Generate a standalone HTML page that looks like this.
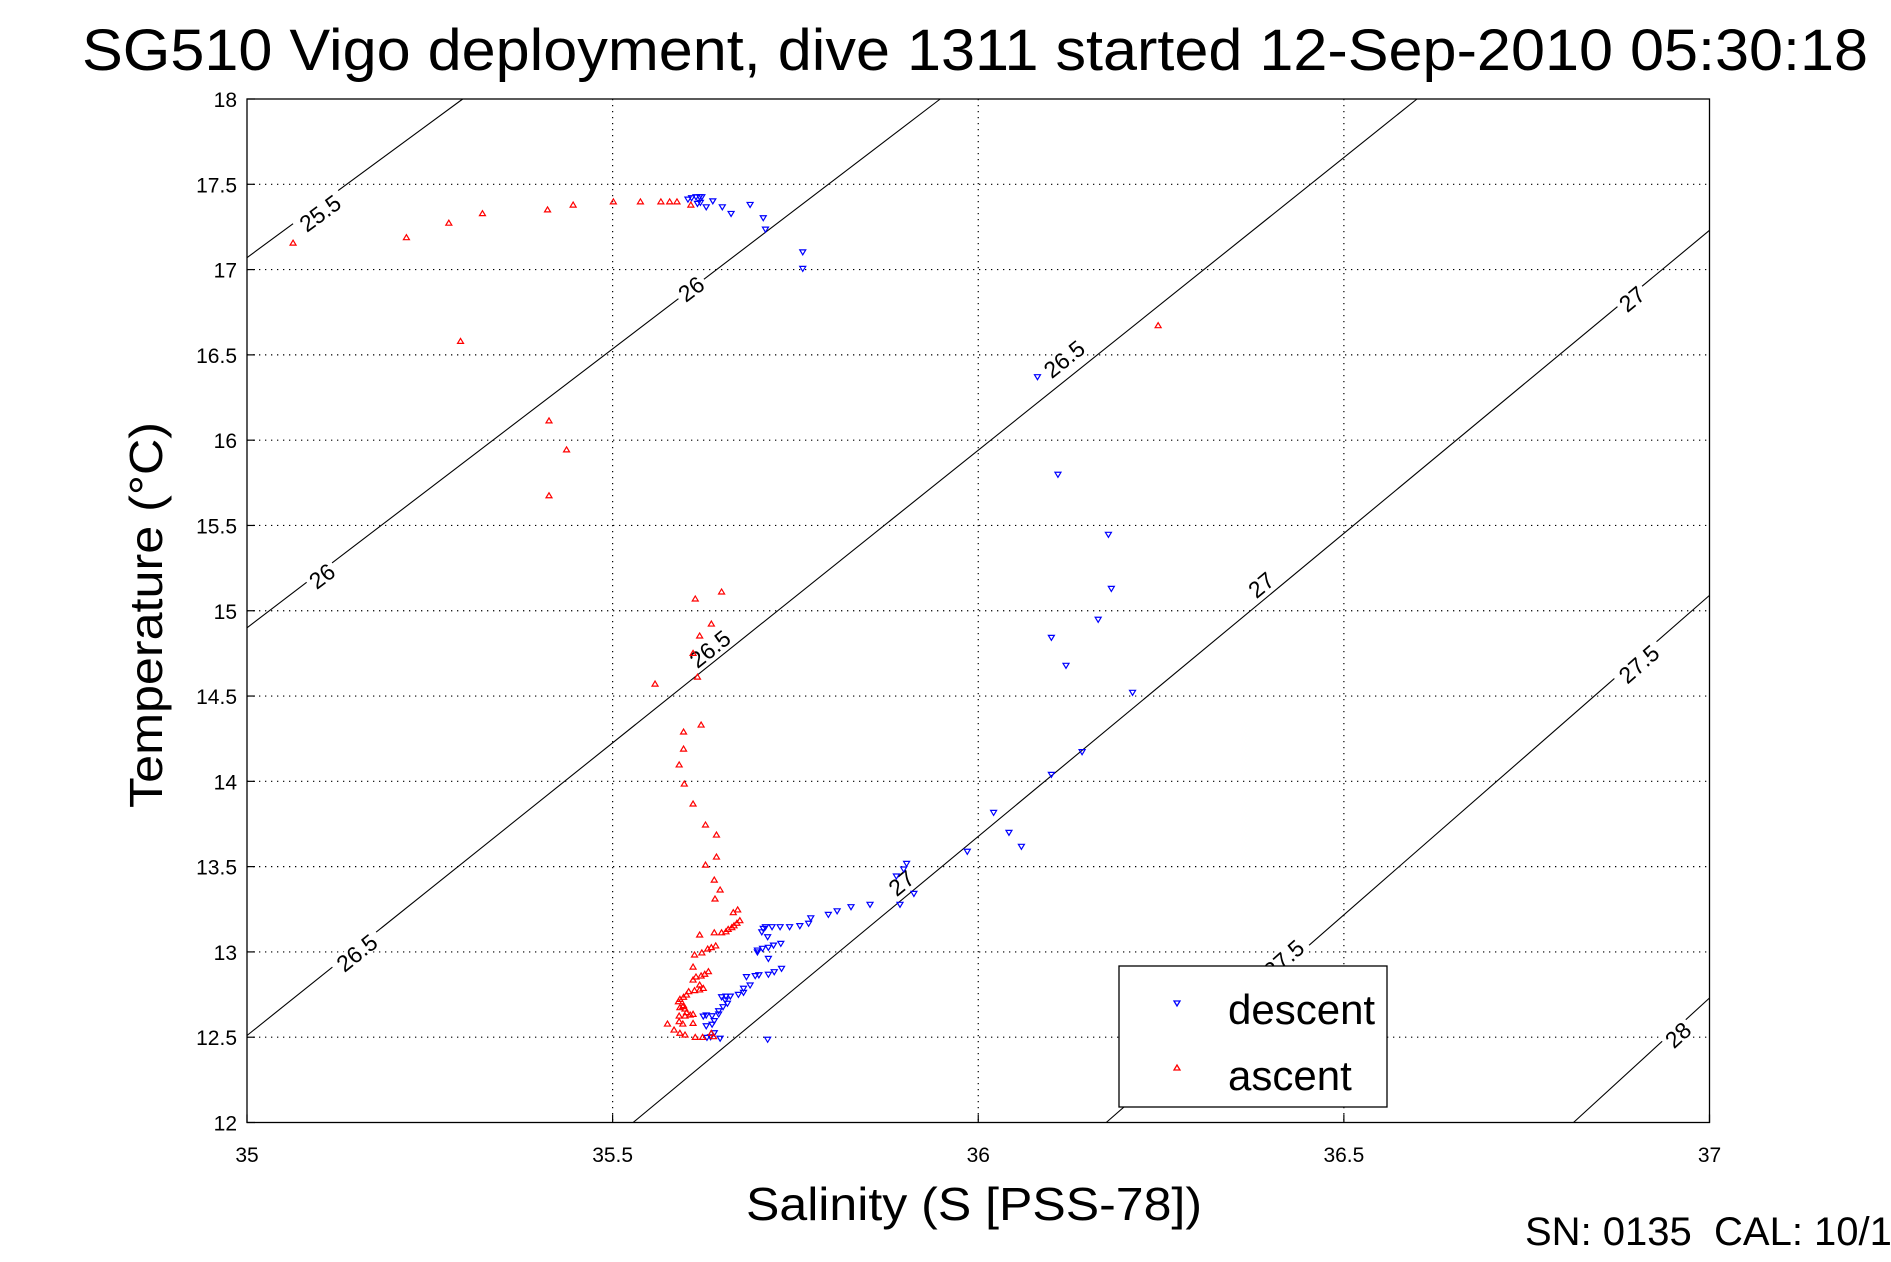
<!DOCTYPE html>
<html><head><meta charset="utf-8"><style>
html,body{margin:0;padding:0;background:#fff;}
svg{display:block;font-family:"Liberation Sans",sans-serif;}
</style></head><body>
<svg id="chart" width="1891" height="1262" viewBox="0 0 1891 1262" xmlns="http://www.w3.org/2000/svg">
<rect width="1891" height="1262" fill="#fff"/>
<text x="82" y="70" font-size="58" textLength="1786" lengthAdjust="spacingAndGlyphs">SG510 Vigo deployment, dive 1311 started 12-Sep-2010 05:30:18</text>
<g id="grid"></g>
<g id="contours"></g>
<g id="marks"></g>
<g id="axes"></g>
<text transform="translate(162,615) rotate(-90)" text-anchor="middle" font-size="46" textLength="386" lengthAdjust="spacingAndGlyphs">Temperature (°C)</text>
<text x="974" y="1220" text-anchor="middle" font-size="46" textLength="456" lengthAdjust="spacingAndGlyphs">Salinity (S [PSS-78])</text>
<text x="1525" y="1245" font-size="40" style="white-space:pre">SN: 0135  CAL: 10/1</text>
<g>
<rect x="1119" y="966" width="268" height="141" fill="#fff" stroke="#000" stroke-width="1.3"/>
<path d="M1174,1001 L1180,1001 L1177,1006 Z" fill="none" stroke="#00f" stroke-width="1.3"/>
<text x="1228" y="1024" font-size="42">descent</text>
<path d="M1174,1070 L1180,1070 L1177,1065 Z" fill="none" stroke="#f00" stroke-width="1.3"/>
<text x="1228" y="1090" font-size="42">ascent</text>
</g>
</svg>
<script>
const xTicks=[35,35.5,36,36.5,37];
const xTickLabels=["35","35.5","36","36.5","37"];
const yTicks=[12,12.5,13,13.5,14,14.5,15,15.5,16,16.5,17,17.5,18];
const yTickLabels=["12","12.5","13","13.5","14","14.5","15","15.5","16","16.5","17","17.5","18"];
const contourLevels=["25.5","26","26.5","27","27.5","28"];
const contourStartS=[35,35,35,35.528,36.175,36.814];
const contourStartT=[17.07,14.90,12.51,12,12,12];
const contourEndS=[35.295,35.948,36.60,37,37,37];
const contourEndT=[18,18,18,17.23,15.09,12.73];
const labelLevel=["25.5","26","26","26.5","26.5","26.5","27","27","27","27.5","27.5","28"];
const labelS=[35.1,35.6075,35.1026,36.1176,35.6332,35.1503,36.894,36.387,35.895,36.9036,36.418,36.957];
const labelT=[17.33,16.886,15.203,16.475,14.776,12.994,16.827,15.151,13.404,14.687,12.958,12.513];
const descS=[35.622,35.619,35.614,35.608,35.603,35.616,35.620,35.628,35.637,35.650,35.662,35.688,35.706,35.709,35.760,35.760,36.081,36.109,36.178,36.182,36.164,36.100,36.120,36.211,36.142,36.100,36.021,36.042,36.059,35.985,35.902,35.898,35.888,35.912,35.893,35.852,35.826,35.807,35.795,35.771,35.768,35.756,35.742,35.729,35.718,35.709,35.706,35.704,35.712,35.730,35.720,35.713,35.705,35.698,35.698,35.713,35.731,35.721,35.713,35.700,35.695,35.683,35.688,35.679,35.679,35.672,35.661,35.655,35.649,35.654,35.657,35.651,35.645,35.645,35.636,35.628,35.624,35.639,35.636,35.628,35.639,35.647,35.634,35.629,35.712];
const descT=[17.427,17.427,17.427,17.421,17.413,17.388,17.394,17.368,17.403,17.368,17.329,17.382,17.304,17.237,17.104,17.007,16.372,15.80,15.448,15.131,14.950,14.844,14.680,14.522,14.174,14.041,13.818,13.701,13.619,13.590,13.519,13.486,13.445,13.343,13.279,13.279,13.265,13.241,13.220,13.200,13.168,13.154,13.148,13.148,13.148,13.148,13.138,13.118,13.089,13.050,13.040,13.027,13.021,13.011,13.0,12.962,12.904,12.884,12.869,12.866,12.861,12.855,12.806,12.787,12.763,12.751,12.741,12.741,12.737,12.718,12.699,12.679,12.655,12.636,12.626,12.630,12.624,12.597,12.576,12.567,12.526,12.494,12.503,12.499,12.488];
const ascS=[35.063,35.218,35.276,35.322,35.411,35.446,35.501,35.538,35.566,35.578,35.588,35.607,35.292,35.413,35.437,35.413,36.246,35.649,35.613,35.635,35.619,35.610,35.616,35.558,35.621,35.597,35.597,35.591,35.598,35.610,35.627,35.642,35.642,35.627,35.639,35.647,35.640,35.665,35.671,35.674,35.670,35.666,35.663,35.658,35.655,35.649,35.639,35.619,35.641,35.635,35.630,35.622,35.612,35.610,35.631,35.626,35.621,35.614,35.610,35.619,35.624,35.619,35.612,35.604,35.601,35.597,35.592,35.590,35.596,35.592,35.599,35.597,35.601,35.606,35.610,35.591,35.599,35.591,35.596,35.575,35.610,35.584,35.592,35.599,35.613,35.623,35.635,35.638];
const ascT=[17.155,17.187,17.272,17.328,17.350,17.378,17.397,17.397,17.397,17.397,17.397,17.378,16.579,16.113,15.943,15.674,16.671,15.110,15.069,14.922,14.852,14.750,14.611,14.570,14.330,14.289,14.189,14.096,13.984,13.867,13.744,13.685,13.556,13.509,13.421,13.363,13.31,13.23,13.246,13.183,13.168,13.153,13.142,13.132,13.118,13.112,13.112,13.099,13.035,13.025,13.017,12.994,12.982,12.911,12.884,12.869,12.859,12.853,12.835,12.806,12.786,12.777,12.773,12.767,12.747,12.734,12.722,12.708,12.679,12.673,12.665,12.685,12.644,12.630,12.634,12.624,12.624,12.591,12.577,12.577,12.581,12.542,12.523,12.513,12.499,12.499,12.523,12.503];

const L=247,R=1709.5,TOP=99,B=1122.5;
function xS(s){return L+(s-35)/2*(R-L);}
function yT(t){return B-(t-12)/6*(B-TOP);}
const NS="http://www.w3.org/2000/svg";
function mk(tag,parent,attrs){const e=document.createElementNS(NS,tag);for(const k in attrs)e.setAttribute(k,attrs[k]);parent.appendChild(e);return e;}
const grid=document.getElementById('grid'),cont=document.getElementById('contours'),marks=document.getElementById('marks'),axes=document.getElementById('axes');

xTicks.forEach((v,i)=>{
  const x=xS(v);
  if(i>0&&i<xTicks.length-1){const g=mk('line',grid,{x1:x,x2:x,y1:TOP,y2:B,stroke:'#000','stroke-width':1.2,'stroke-dasharray':'1.3,4.7'});
  
  }
  const t=mk('text',axes,{x:x,y:1162,'text-anchor':'middle','font-size':21});
  t.textContent=xTickLabels[i];
  
  
  const tk=mk('line',axes,{x1:x,x2:x,y1:B,y2:B-8,stroke:'#000','stroke-width':1.2});
  
  
});
yTicks.forEach((v,i)=>{
  const y=yT(v);
  if(i>0&&i<yTicks.length-1){const g=mk('line',grid,{x1:L,x2:R,y1:y,y2:y,stroke:'#000','stroke-width':1.2,'stroke-dasharray':'1.3,4.7'});
  
  }
  const t=mk('text',axes,{x:237,y:y+8,'text-anchor':'end','font-size':21});
  t.textContent=yTickLabels[i];
  
  
  const tk=mk('line',axes,{x1:L,x2:L+8,y1:y,y2:y,stroke:'#000','stroke-width':1.2});
  
  
});
const frame=mk('rect',axes,{x:L,y:TOP,width:R-L,height:B-TOP,fill:'none',stroke:'#000','stroke-width':1.3});



contourLevels.forEach((lv,i)=>{
  const l=mk('line',cont,{x1:xS(contourStartS[i]),y1:yT(contourStartT[i]),x2:xS(contourEndS[i]),y2:yT(contourEndT[i]),stroke:'#000','stroke-width':1.1});
  
  
});
labelLevel.forEach((lv,j)=>{
  const i=contourLevels.indexOf(lv);
  const dx=xS(contourEndS[i])-xS(contourStartS[i]),dy=yT(contourEndT[i])-yT(contourStartT[i]);
  const ang=Math.atan2(dy,dx)*180/Math.PI;
  const x=xS(labelS[j]),y=yT(labelT[j]);
  const g=mk('g',cont,{transform:`translate(${x},${y}) rotate(${ang})`});
  
  
  const w=lv.length*12+8;
  mk('rect',g,{x:-w/2,y:-9,width:w,height:18,fill:'#fff'});
  const t=mk('text',g,{x:0,y:8,'text-anchor':'middle','font-size':23});
  t.textContent=lv;
});

descS.forEach((s,i)=>{
  const x=xS(s),y=yT(descT[i]);
  const p=mk('path',marks,{d:`M${x-3},${y-2} L${x+3},${y-2} L${x},${y+3} Z`,fill:'none',stroke:'#00f','stroke-width':1.2});
  
  
});
ascS.forEach((s,i)=>{
  const x=xS(s),y=yT(ascT[i]);
  const p=mk('path',marks,{d:`M${x-3},${y+2} L${x+3},${y+2} L${x},${y-3} Z`,fill:'none',stroke:'#f00','stroke-width':1.2});
  
  
});
</script>
</body></html>
